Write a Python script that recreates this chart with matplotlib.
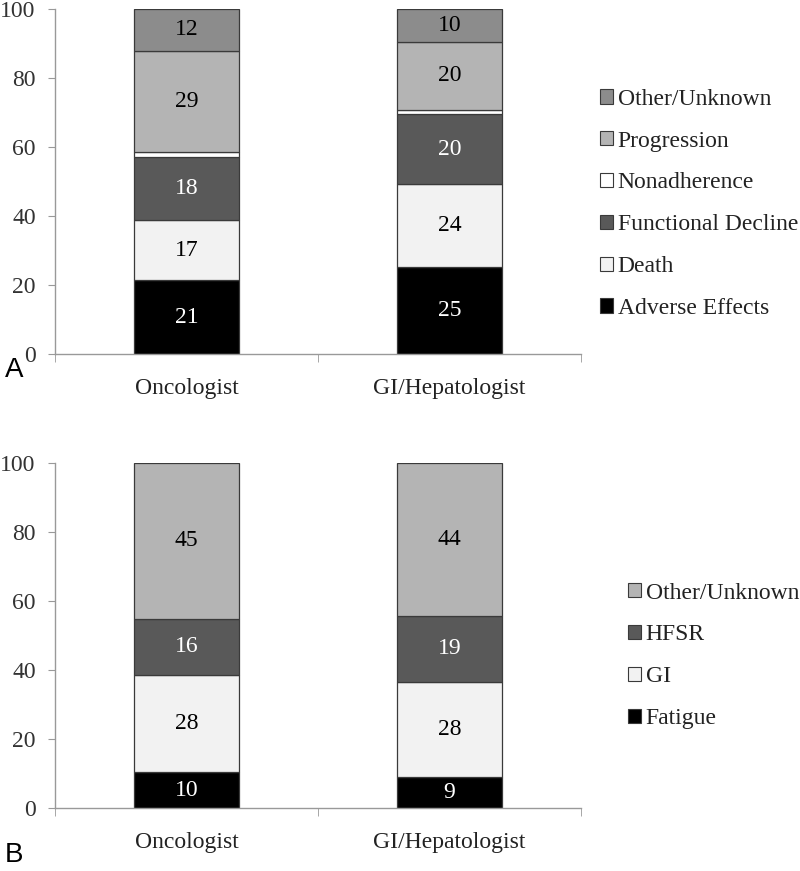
import matplotlib.pyplot as plt
from matplotlib.patches import Patch

plt.rcParams['font.family'] = ['Liberation Serif', 'DejaVu Serif']

groups = ['Oncologist', 'GI/Hepatologist']

# Panel A: reasons for discontinuation (%)
a_labels = ['Adverse Effects', 'Death', 'Functional Decline', 'Nonadherence', 'Progression', 'Other/Unknown']
a_onc = [21.4, 17.3, 18.4, 1.4, 29.4, 12.1]
a_gi = [25.3, 23.9, 20.3, 1.3, 19.6, 9.6]
a_colors = ['#000000', '#f2f2f2', '#595959', '#ffffff', '#b4b4b4', '#8c8c8c']
a_text = ['white', 'black', 'white', None, 'black', 'black']

# Panel B: adverse effects (%)
b_labels = ['Fatigue', 'GI', 'HFSR', 'Other/Unknown']
b_onc = [10.4, 28.1, 16.4, 45.1]
b_gi = [9.0, 27.6, 19.2, 44.2]
b_colors = ['#000000', '#f2f2f2', '#595959', '#b4b4b4']
b_text = ['white', 'black', 'white', 'black']

fig = plt.figure(figsize=(8, 8.71), dpi=100)
ax_a = fig.add_axes([0.069, 0.5936, 0.657, 0.396])
ax_b = fig.add_axes([0.069, 0.0723, 0.657, 0.396])


def stacked(ax, labels, onc, gi, colors, tcols):
    bottoms = [0.0, 0.0]
    for i, lab in enumerate(labels):
        vals = [onc[i], gi[i]]
        ax.bar([0, 1], vals, width=0.4, bottom=bottoms, color=colors[i],
               edgecolor='#3a3a3a', linewidth=0.9, label=lab)
        if tcols[i] is not None:
            for x, v, b in zip([0, 1], vals, bottoms):
                ax.text(x, b + v / 2, str(round(v)), ha='center', va='center',
                        fontsize=17, color=tcols[i])
        bottoms = [bottoms[0] + vals[0], bottoms[1] + vals[1]]

    ax.set_xlim(-0.5, 1.5)
    ax.set_ylim(0, 100)
    ax.set_yticks(range(0, 101, 20))
    ax.set_xticks([0, 1])
    ax.set_xticklabels(groups)
    ax.set_xticks([-0.5, 0.5, 1.5], minor=True)
    ax.tick_params(axis='x', which='major', length=0, pad=17, labelsize=17, labelcolor='#222222')
    ax.tick_params(axis='x', which='minor', length=6, color='#999999')
    ax.tick_params(axis='y', length=5, color='#999999', labelsize=17, labelcolor='#333333', pad=9)
    for s in ['top', 'right']:
        ax.spines[s].set_visible(False)
    for s in ['left', 'bottom']:
        ax.spines[s].set_color('#999999')
        ax.spines[s].set_linewidth(1.0)


def legend(labels, colors, anchor):
    handles = [Patch(facecolor=c, edgecolor='#3a3a3a', linewidth=0.8, label=l)
               for l, c in zip(labels, colors)][::-1]
    fig.legend(handles=handles, loc='center left', bbox_to_anchor=anchor,
               frameon=False, fontsize=17, handlelength=0.55, handleheight=0.55,
               handletextpad=0.2, labelspacing=0.88, borderpad=0, borderaxespad=0,
               labelcolor='#222222')


stacked(ax_a, a_labels, a_onc, a_gi, a_colors, a_text)
stacked(ax_b, b_labels, b_onc, b_gi, b_colors, b_text)
legend(a_labels, a_colors, (0.75, 0.766))
legend(b_labels, b_colors, (0.785, 0.247))

fig.text(0.006, 0.575, 'A', fontsize=20, family='Liberation Sans', va='center', ha='left')
fig.text(0.006, 0.018, 'B', fontsize=20, family='Liberation Sans', va='center', ha='left')

fig.savefig('out.png', dpi=100)
